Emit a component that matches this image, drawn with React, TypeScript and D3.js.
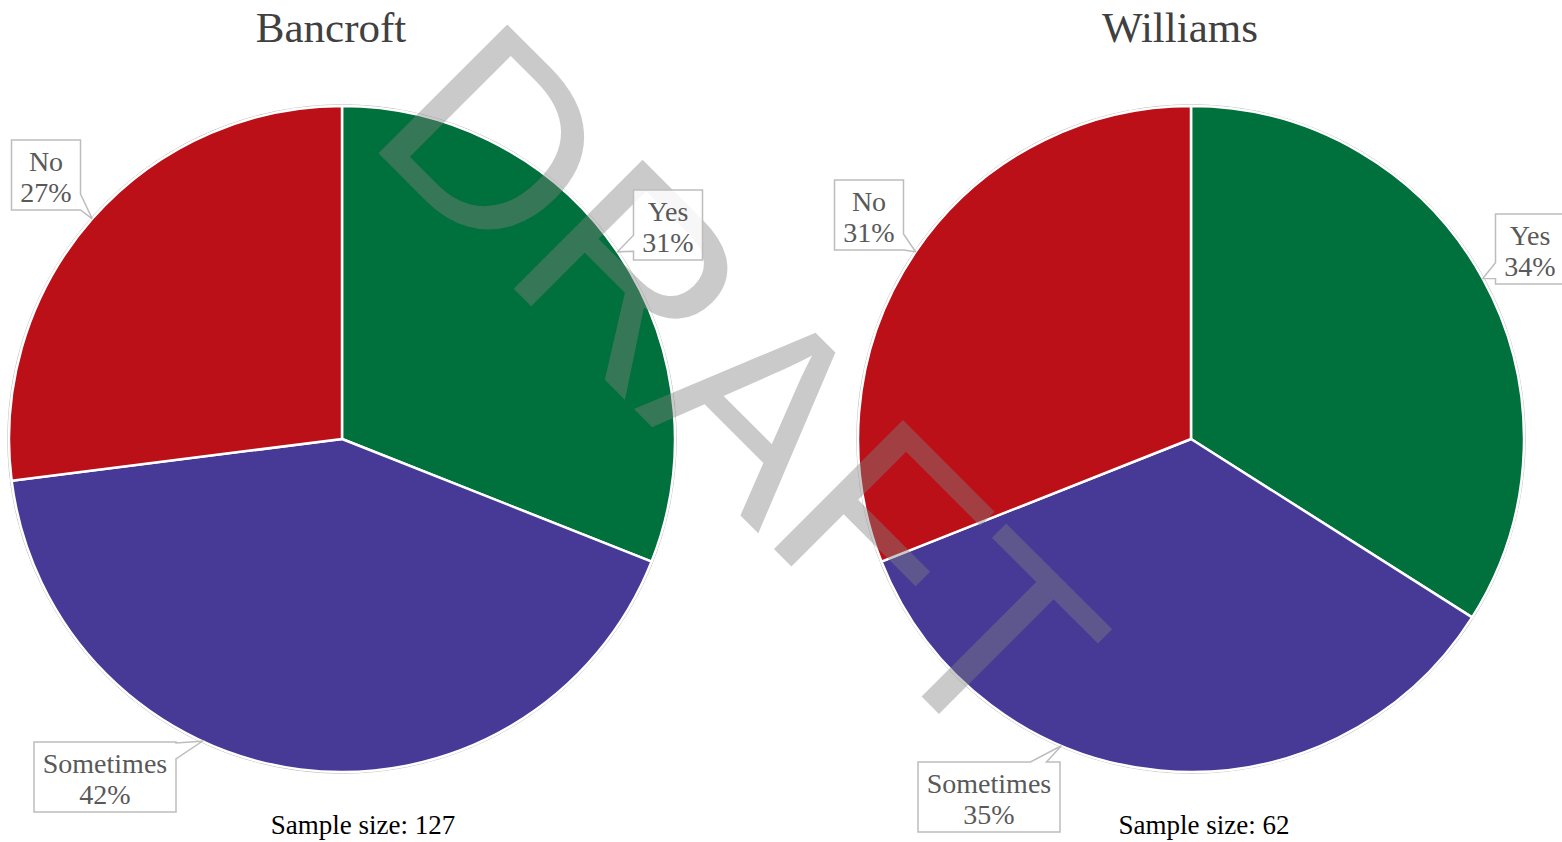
import React from "react";
import * as d3 from "d3";

const categories = ["Yes", "Sometimes", "No"];
const bancroftValues = [31, 42, 27];
const williamsValues = [34, 35, 31];
const chartTitles = ["Bancroft", "Williams"];
const sampleSizes = [127, 62];
const sliceColors = ["#00703C", "#463A96", "#BB1018"];

const width = 1562;
const height = 842;
const serif = "'Liberation Serif', 'Times New Roman', serif";

// where each pie sits and where Excel put its callouts
const layout = [
  {
    cx: 342, cy: 439, r: 333, titleX: 331, sampleX: 363,
    boxes: [
      { dx: 326, dy: -214, w: 69, tip: null },
      { dx: -237, dy: 338, w: 142, tip: 204.8 },
      { dx: -296, dy: -264, w: 69, tip: null },
    ],
  },
  {
    cx: 1191, cy: 439, r: 333, titleX: 1180, sampleX: 1204,
    boxes: [
      { dx: 339, dy: -190, w: 69, tip: null },
      { dx: -202, dy: 358, w: 142, tip: 202.9 },
      { dx: -322, dy: -224, w: 69, tip: null },
    ],
  },
];

// rectangle with a wedge pointing at (tx, ty)
function calloutPath(x0: number, y0: number, x1: number, y1: number, tx: number, ty: number) {
  const cx = (x0 + x1) / 2, cy = (y0 + y1) / 2;
  const hw = (x1 - x0) / 2, hh = (y1 - y0) / 2;
  const vx = tx - cx, vy = ty - cy;
  const half = 8;
  const tX = Math.abs(vx) > 0 ? hw / Math.abs(vx) : Infinity;
  const tY = Math.abs(vy) > 0 ? hh / Math.abs(vy) : Infinity;
  const pts: [number, number][] = [[x0, y0], [x1, y0], [x1, y1], [x0, y1]];
  let side: number; // 0 top,1 right,2 bottom,3 left
  let along: number;
  if (tX < tY) {
    side = vx > 0 ? 1 : 3;
    along = Math.max(y0 + half, Math.min(y1 - half, cy + vy * tX));
  } else {
    side = vy > 0 ? 2 : 0;
    along = Math.max(x0 + half, Math.min(x1 - half, cx + vx * tY));
  }
  const out: [number, number][] = [];
  for (let i = 0; i < 4; i++) {
    out.push(pts[i]);
    if (i === side) {
      if (side === 0) out.push([along - half, y0], [tx, ty], [along + half, y0]);
      if (side === 1) out.push([x1, along - half], [tx, ty], [x1, along + half]);
      if (side === 2) out.push([along + half, y1], [tx, ty], [along - half, y1]);
      if (side === 3) out.push([x0, along + half], [tx, ty], [x0, along - half]);
    }
  }
  return "M" + out.map((p) => p.join(",")).join("L") + "Z";
}

const Pie = ({ values, title, sample, conf }) => {
  const pie = d3.pie<number>().sort(null).value((d) => d);
  const arcs = pie(values);
  const arc = d3.arc<d3.PieArcDatum<number>>().innerRadius(0).outerRadius(conf.r);
  return (
    <g>
      <text x={conf.titleX} y={42} textAnchor="middle" fontFamily={serif} fontSize={43} fill="#404040">
        {title}
      </text>
      <g transform={`translate(${conf.cx},${conf.cy})`}>
        <circle r={conf.r + 1.2} fill="none" stroke="#b8b8b8" strokeWidth={1} />
        {arcs.map((a, i) => (
          <path key={i} d={arc(a) as string} fill={sliceColors[i]} stroke="#fff" strokeWidth={2.5} strokeLinejoin="round" />
        ))}
      </g>
      <text x={conf.sampleX} y={834} textAnchor="middle" fontFamily={serif} fontSize={27} fill="#000">
        Sample size: {sample}
      </text>
    </g>
  );
};

const Labels = ({ values, conf }) => {
  const pie = d3.pie<number>().sort(null).value((d) => d);
  const arcs = pie(values);
  const total = d3.sum(values);
  return (
    <g>
      {arcs.map((a, i) => {
        const b = conf.boxes[i];
        const ang = b.tip != null ? (b.tip * Math.PI) / 180 : (a.startAngle + a.endAngle) / 2;
        const tx = conf.cx + conf.r * Math.sin(ang);
        const ty = conf.cy - conf.r * Math.cos(ang);
        const bx = conf.cx + b.dx, by = conf.cy + b.dy;
        const x0 = bx - b.w / 2, x1 = bx + b.w / 2, y0 = by - 35, y1 = by + 35;
        const pct = Math.round((values[i] / total) * 100);
        return (
          <g key={i}>
            <path d={calloutPath(x0, y0, x1, y1, tx, ty)} fill="#fff" fillOpacity={0.85} stroke="#bdbdbd" strokeWidth={1.5} />
            <text x={bx} y={y0 + 31} textAnchor="middle" fontFamily={serif} fontSize={28} fill="#595959">
              {categories[i]}
            </text>
            <text x={bx} y={y0 + 62} textAnchor="middle" fontFamily={serif} fontSize={28} fill="#595959">
              {pct}%
            </text>
          </g>
        );
      })}
    </g>
  );
};

export default function App() {
  const series = [bancroftValues, williamsValues];
  return (
    <svg width={width} height={height} style={{ position: "absolute", left: 0, top: 0, background: "#fff" }}>
      {series.map((v, i) => (
        <Pie key={i} values={v} title={chartTitles[i]} sample={sampleSizes[i]} conf={layout[i]} />
      ))}
      <text
        transform="translate(363,138) rotate(45)"
        fontFamily="'Liberation Sans', Arial, sans-serif"
        fontSize={265}
        fill="#808080"
        fillOpacity={0.42}
      >
        DRAFT
      </text>
      {series.map((v, i) => (
        <Labels key={i} values={v} conf={layout[i]} />
      ))}
    </svg>
  );
}
